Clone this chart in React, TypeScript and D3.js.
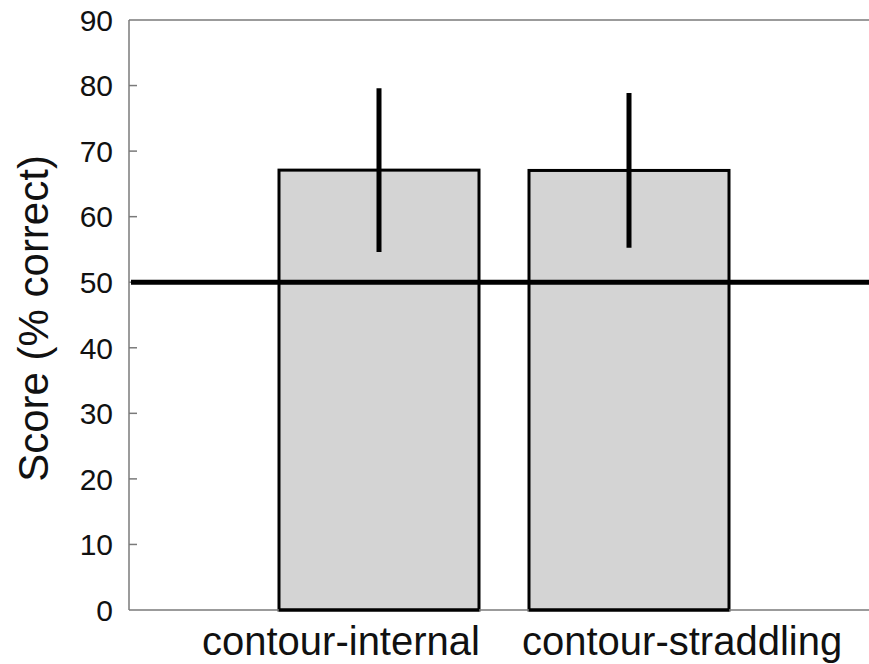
import React from "react";
import * as d3 from "d3";

const categories = ["contour-internal", "contour-straddling"];
const means = [67.1, 67.05];
const errors = [12.5, 11.8];
const chanceLevel = 50;
const yTicks = [0, 10, 20, 30, 40, 50, 60, 70, 80, 90];

const W = 869;
const H = 664;
const left = 129;
const right = 879;
const top = 20;
const bottom = 610;

export default function App() {
  const y = d3.scaleLinear().domain([0, 90]).range([bottom, top]);
  const x = d3.scaleLinear().domain([0, categories.length + 1]).range([left, right]);
  const barW = x(0.8) - x(0);
  const labelX = [202, 522];
  const font = "'Liberation Sans', Arial, Helvetica, sans-serif";

  return (
    <svg
      width={W}
      height={H}
      style={{ position: "absolute", left: 0, top: 0, background: "#fff" }}
      fontFamily={font}
    >
      <rect x={0} y={0} width={W} height={H} fill="#fff" />
      {categories.map((c, i) => {
        const cx = x(i + 1);
        return (
          <rect
            key={c}
            x={cx - barW / 2}
            y={y(means[i])}
            width={barW}
            height={y(0) - y(means[i])}
            fill="#d4d4d4"
            stroke="#000"
            strokeWidth={3}
          />
        );
      })}
      <line x1={left} x2={left} y1={top} y2={bottom} stroke="#7a7a7a" strokeWidth={1.5} />
      <line x1={left} x2={W} y1={top} y2={top} stroke="#7a7a7a" strokeWidth={1.5} />
      <line x1={left} x2={W} y1={bottom} y2={bottom} stroke="#7a7a7a" strokeWidth={1.5} />
      {categories.map((c, i) => {
        const cx = x(i + 1);
        return (
          <line
            key={c + "b"}
            x1={cx - barW / 2}
            x2={cx + barW / 2}
            y1={y(0)}
            y2={y(0)}
            stroke="#000"
            strokeWidth={3}
          />
        );
      })}
      {yTicks.map((t) => (
        <g key={t}>
          {t > 0 && t < 90 && (
            <line x1={left} x2={left + 8} y1={y(t)} y2={y(t)} stroke="#7a7a7a" strokeWidth={1.5} />
          )}
          <text
            x={113}
            y={y(t)}
            dy="0.36em"
            textAnchor="end"
            fontSize={30}
            fill="#111"
          >
            {t}
          </text>
        </g>
      ))}
      <line
        x1={left + 2}
        x2={W}
        y1={y(chanceLevel)}
        y2={y(chanceLevel)}
        stroke="#000"
        strokeWidth={5}
      />
      {categories.map((c, i) => {
        const cx = x(i + 1);
        return (
          <line
            key={c + "e"}
            x1={cx}
            x2={cx}
            y1={y(means[i] + errors[i])}
            y2={y(means[i] - errors[i])}
            stroke="#000"
            strokeWidth={5}
          />
        );
      })}
      {categories.map((c, i) => (
        <text key={c + "l"} x={labelX[i]} y={655} fontSize={40} fill="#111">
          {c}
        </text>
      ))}
      <text
        transform={`translate(48, ${318.5}) rotate(-90)`}
        textAnchor="middle"
        fontSize={42}
        fill="#111"
      >
        Score (% correct)
      </text>
    </svg>
  );
}
